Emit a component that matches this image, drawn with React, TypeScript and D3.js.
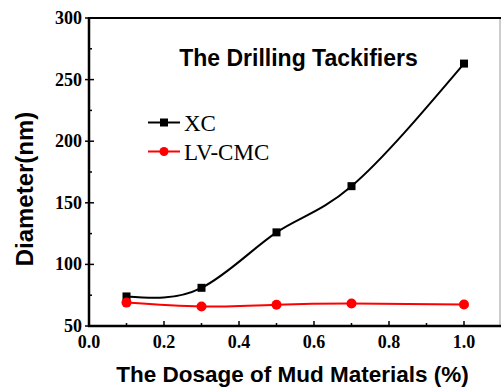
import React from "react";
import * as d3 from "d3";

const dosage = [0.1, 0.3, 0.5, 0.7, 1.0];
const xcValues = [74, 81, 126, 163.5, 263];
const lvcmcValues = [69, 65.8, 67.2, 68.2, 67.4];
const xTicks = [0.0, 0.2, 0.4, 0.6, 0.8, 1.0];
const yTicks = [50, 100, 150, 200, 250, 300];

const W = 501, H = 387;
const L = 89, T = 18, R = 501.5, B = 326;

export default function App() {
  const x = d3.scaleLinear().domain([0, 1.1]).range([L, R]);
  const y = d3.scaleLinear().domain([50, 300]).range([B, T]);
  const line = d3
    .line<[number, number]>()
    .x((d) => x(d[0]))
    .y((d) => y(d[1]))
    .curve(d3.curveNatural);
  const xcPts = dosage.map((d, i) => [d, xcValues[i]] as [number, number]);
  const lvPts = dosage.map((d, i) => [d, lvcmcValues[i]] as [number, number]);
  const xMinor = d3.range(0.1, 1.1, 0.2);
  const yMinor = d3.range(75, 300, 50);
  const serif = "'Liberation Serif', 'Times New Roman', serif";
  const sans = "'Liberation Sans', Arial, sans-serif";

  return (
    <svg
      width={W}
      height={H}
      style={{ position: "absolute", left: 0, top: 0, background: "#fff" }}
    >
      {/* frame */}
      <line x1={R - 1.5} y1={T} x2={R - 1.5} y2={B} stroke="#999" strokeWidth={1} />
      <line x1={L} y1={T} x2={W} y2={T} stroke="#000" strokeWidth={2} />
      <line x1={L} y1={T - 1} x2={L} y2={B + 1} stroke="#000" strokeWidth={2.5} />
      <line x1={L - 1} y1={B} x2={W} y2={B} stroke="#000" strokeWidth={2.5} />

      {/* x ticks */}
      {xTicks.map((t) => (
        <g key={"xt" + t}>
          <line x1={x(t)} x2={x(t)} y1={B} y2={B - 5} stroke="#000" strokeWidth={1.5} />
          <text
            x={x(t)}
            y={348}
            textAnchor="middle"
            fontFamily={serif}
            fontWeight="bold"
            fontSize={18}
          >
            {t.toFixed(1)}
          </text>
        </g>
      ))}
      {xMinor.map((t) => (
        <line key={"xm" + t} x1={x(t)} x2={x(t)} y1={B} y2={B - 3} stroke="#000" strokeWidth={1.5} />
      ))}

      {/* y ticks */}
      {yTicks.map((t) => (
        <g key={"yt" + t}>
          <line x1={L - 4} x2={L + 5} y1={y(t)} y2={y(t)} stroke="#000" strokeWidth={1.5} />
          <text
            x={82}
            y={y(t) + 6}
            textAnchor="end"
            fontFamily={serif}
            fontWeight="bold"
            fontSize={18}
          >
            {t}
          </text>
        </g>
      ))}
      {yMinor.map((t) => (
        <line key={"ym" + t} x1={L} x2={L + 3} y1={y(t)} y2={y(t)} stroke="#000" strokeWidth={1.5} />
      ))}

      {/* series */}
      <path d={line(xcPts) || ""} fill="none" stroke="#000" strokeWidth={2} />
      <path d={line(lvPts) || ""} fill="none" stroke="#ff0000" strokeWidth={2} />
      {xcPts.map((p, i) => (
        <rect key={"xc" + i} x={x(p[0]) - 4} y={y(p[1]) - 4} width={8} height={8} fill="#000" />
      ))}
      {lvPts.map((p, i) => (
        <circle key={"lv" + i} cx={x(p[0])} cy={y(p[1])} r={5} fill="#ff0000" />
      ))}

      {/* title */}
      <text x={298.5} y={66} textAnchor="middle" fontFamily={sans} fontWeight="bold" fontSize={23}>
        The Drilling Tackifiers
      </text>

      {/* legend */}
      <line x1={148} x2={180} y1={122.5} y2={122.5} stroke="#000" strokeWidth={2} />
      <rect x={160} y={118.5} width={8} height={8} fill="#000" />
      <text x={184} y={130.5} fontFamily={serif} fontSize={23}>XC</text>
      <line x1={148} x2={180} y1={151.5} y2={151.5} stroke="#ff0000" strokeWidth={2} />
      <circle cx={164} cy={151.5} r={4.5} fill="#ff0000" />
      <text x={184} y={159.5} fontFamily={serif} fontSize={23}>LV-CMC</text>

      {/* axis titles */}
      <text x={292.5} y={382} textAnchor="middle" fontFamily={sans} fontWeight="bold" fontSize={22.5}>
        The Dosage of Mud Materials (%)
      </text>
      <text
        transform={`translate(33,189) rotate(-90)`}
        textAnchor="middle"
        fontFamily={sans}
        fontWeight="bold"
        fontSize={24}
      >
        Diameter(nm)
      </text>
    </svg>
  );
}
